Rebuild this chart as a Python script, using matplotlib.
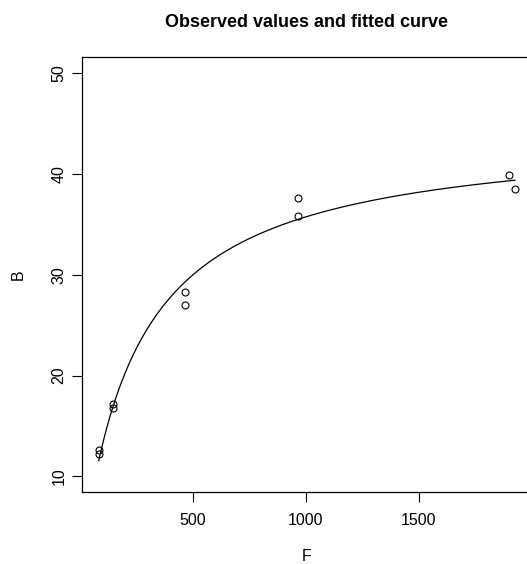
"""Observed binding values (B vs F) with a fitted saturation curve."""

import numpy as np
import matplotlib
matplotlib.use("Agg")
import matplotlib.pyplot as plt

plt.rcParams["font.family"] = ["Liberation Sans", "DejaVu Sans"]

free_conc = [84, 84, 147, 147, 465, 465, 966, 966, 1900, 1926]
bound = [12.6, 12.2, 17.2, 16.8, 28.3, 27.0, 37.6, 35.8, 39.9, 38.5]

x_ticks = [500, 1000, 1500]
y_ticks = [10, 20, 30, 40, 50]


def fit_saturation(F, B):
    """Least squares for B = Bmax * F / (K + F); Bmax is linear given K."""
    best = None
    for K in np.linspace(10, 1000, 9901):
        g = F / (K + F)
        bmax = np.dot(B, g) / np.dot(g, g)
        sse = np.sum((B - bmax * g) ** 2)
        if best is None or sse < best[0]:
            best = (sse, bmax, K)
    return best[1], best[2]


F = np.array(free_conc, dtype=float)
B = np.array(bound, dtype=float)
bmax, kd = fit_saturation(F, B)
grid = np.linspace(F.min(), F.max(), 300)

fig = plt.figure(figsize=(5.27, 5.64), dpi=100)
# the box runs a little past the right edge, as in the reference
ax = fig.add_axes([0.1556, 0.1271, 0.8533, 0.7713])

ax.plot(F, B, "o", mfc="none", mec="black", ms=5.0, mew=0.8)
ax.plot(grid, bmax * grid / (kd + grid), color="black", lw=0.9)

ax.set_xlim(10, 2000)
ax.set_ylim(8.4, 51.6)
ax.set_xticks(x_ticks)
ax.set_yticks(y_ticks)
ax.set_xticklabels([str(v) for v in x_ticks], fontsize=11.5)
ax.set_yticklabels([str(v) for v in y_ticks], fontsize=11.5,
                   rotation=90, va="center")
ax.tick_params(length=7, width=0.8)
ax.tick_params(axis="x", pad=8)
ax.tick_params(axis="y", pad=4)
for s in ax.spines.values():
    s.set_linewidth(0.9)

ax.set_xlabel("F", fontsize=11.5, labelpad=15)
ax.set_ylabel("B", fontsize=11.5, labelpad=19)
ax.set_title("Observed values and fitted curve", fontsize=13,
             fontweight="bold", pad=22)

fig.savefig("out.png", dpi=100)
